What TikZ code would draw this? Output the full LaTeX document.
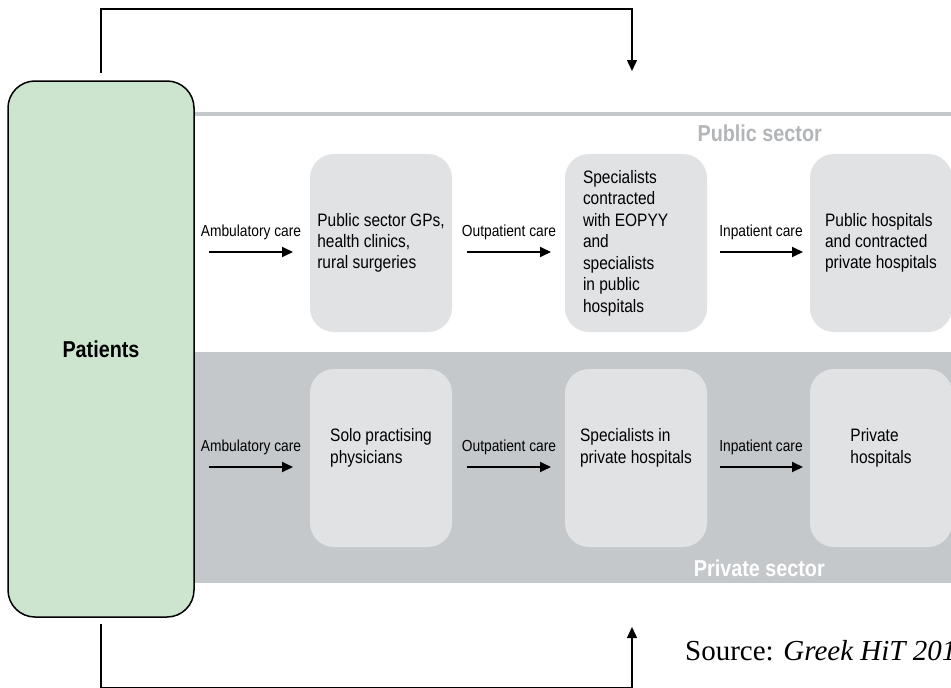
\documentclass[tikz,border=0pt]{standalone}
\usepackage{fontspec}
\setmainfont{Liberation Sans}[FakeStretch=0.86]
\newfontfamily\srcfont{Liberation Serif}
\usetikzlibrary{arrows.meta,calc}
\definecolor{patgreen}{HTML}{CDE4CF}
\definecolor{bandgray}{HTML}{C5C8CB}
\definecolor{boxgray}{HTML}{E1E2E4}
\definecolor{pubtext}{HTML}{B3B6B9}
\tikzset{
  patbox/.style={draw=black, line width=1.5pt, fill=patgreen, rounded corners=27pt,
    minimum width=186pt, minimum height=536pt, inner sep=0pt,
    font=\bfseries\fontsize{23}{27}\selectfont},
  carebox/.style={fill=boxgray, draw=none, rounded corners=24pt,
    minimum width=142pt, minimum height=178pt, inner sep=0pt, align=left,
    font=\fontsize{18}{21.3}\selectfont},
  carelabel/.style={inner sep=0pt, font=\fontsize{16}{19}\selectfont},
  sectorlabel/.style={inner sep=0pt, font=\bfseries\fontsize{23}{27}\selectfont},
  flow/.style={line width=1.8pt, -{Triangle[length=11pt,width=10pt]}},
  conn/.style={line width=1.5pt, -{Triangle[length=11pt,width=10pt]}},
}
\begin{document}
\begin{tikzpicture}[x=1pt,y=-1pt]
\clip (0,0) rectangle (951,688);
\fill[white] (0,0) rectangle (951,688);
% sector background
\draw[bandgray, line width=4pt] (194,114) -- (951,114);
\fill[bandgray] (194,352) rectangle (951,583);
\node[sectorlabel, text=pubtext, anchor=east] (publbl) at (822,133) {Public sector};
\node[sectorlabel, text=white, anchor=east] (privlbl) at (825,568) {Private sector};
% patients
\node[patbox] (pat) at (101,349) {Patients};
% public row
\node[carebox] (pub1) at (381,243) {Public sector GPs,\\health clinics,\\rural surgeries};
\node[carebox, text width=106pt, align=flush left, font=\fontsize{18}{21.5}\selectfont] (pub2) at (636,243) {Specialists\\contracted\\with EOPYY\\and\\specialists\\in public\\hospitals};
\node[carebox] (pub3) at (881,243) {Public hospitals\\and contracted\\private hospitals};
% private row
\node[carebox] (prv1) at (381,458) {Solo practising\\physicians\\[3pt]};
\node[carebox] (prv2) at (636,458) {Specialists in\\private hospitals\\[3pt]};
\node[carebox] (prv3) at (881,458) {Private\\hospitals\\[3pt]};
% arrows public
\coordinate (pa1s) at (209,252); \coordinate (pa1e) at (293,252);
\coordinate (pa2s) at (467,252); \coordinate (pa2e) at (551,252);
\coordinate (pa3s) at (720,252); \coordinate (pa3e) at (803,252);
\draw[flow] (pa1s) -- (pa1e);
\draw[flow] (pa2s) -- (pa2e);
\draw[flow] (pa3s) -- (pa3e);
\node[carelabel] (pl1) at (251,232) {Ambulatory care};
\node[carelabel] (pl2) at (509,232) {Outpatient care};
\node[carelabel] (pl3) at (761,232) {Inpatient care};
% arrows private
\coordinate (va1s) at (209,467); \coordinate (va1e) at (293,467);
\coordinate (va2s) at (467,467); \coordinate (va2e) at (551,467);
\coordinate (va3s) at (720,467); \coordinate (va3e) at (803,467);
\draw[flow] (va1s) -- (va1e);
\draw[flow] (va2s) -- (va2e);
\draw[flow] (va3s) -- (va3e);
\node[carelabel] (vl1) at (251,447) {Ambulatory care};
\node[carelabel] (vl2) at (509,447) {Outpatient care};
\node[carelabel] (vl3) at (761,447) {Inpatient care};
% loop connectors
\coordinate (topstart) at (101,73);
\coordinate (topcorner) at (632,9);
\coordinate (toptip) at (632,71);
\draw[conn] (topstart) |- (topcorner) -- (toptip);
\coordinate (botstart) at (101,624);
\coordinate (botcorner) at (632,687.5);
\coordinate (bottip) at (632,627);
\draw[conn] (botstart) |- (botcorner) -- (bottip);
% source
\node[anchor=base west, inner sep=0pt, font=\srcfont\fontsize{29}{32}\selectfont] (src) at (685,660) {Source: \textit{Greek HiT 201}};
\end{tikzpicture}
\end{document}
